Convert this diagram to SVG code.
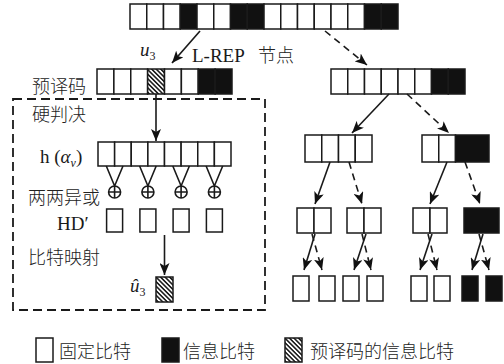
<svg xmlns="http://www.w3.org/2000/svg" width="504" height="364" viewBox="0 0 504 364">
<style>
.c{fill:#fff;stroke:#1a1a1a;stroke-width:1.5}
.b{fill:#111;stroke:#1a1a1a;stroke-width:1.5}
.h{fill:url(#hatch);stroke:#1a1a1a;stroke-width:1.5}
.ln{fill:none;stroke:#1a1a1a;stroke-width:1.6}
.ar{marker-end:url(#ah)}
.ds{stroke-dasharray:7 5}
.cj{font-family:"Noto Sans CJK SC","Noto Sans CJK JP",sans-serif;font-size:18px;font-weight:300;fill:#222}
.lt{font-family:"Liberation Serif","DejaVu Serif",serif;font-size:19px;fill:#1a1a1a}
.it{font-style:italic}
.sb{font-size:12px}
</style>
<defs>
<pattern id="hatch" patternUnits="userSpaceOnUse" width="3.2" height="3.2" patternTransform="rotate(-45)">
<rect width="3.2" height="3.2" fill="#fff"/>
<line x1="0.8" y1="0" x2="0.8" y2="3.2" stroke="#111" stroke-width="1.5"/>
</pattern>
<marker id="ah" markerUnits="userSpaceOnUse" markerWidth="13" markerHeight="10" refX="12" refY="5" orient="auto">
<path d="M0,0 L12,5 L0,10 L3,5 Z" fill="#111"/>
</marker>
</defs>
<rect width="504" height="364" fill="#fff"/>

<g id="root">
<rect class="c" x="130" y="4" width="16.75" height="25"/>
<rect class="c" x="146.75" y="4" width="16.75" height="25"/>
<rect class="c" x="163.5" y="4" width="16.75" height="25"/>
<rect class="b" x="180.25" y="4" width="16.75" height="25"/>
<rect class="c" x="197" y="4" width="16.75" height="25"/>
<rect class="c" x="213.75" y="4" width="16.75" height="25"/>
<rect class="b" x="230.5" y="4" width="16.75" height="25"/>
<rect class="b" x="247.25" y="4" width="16.75" height="25"/>
<rect class="c" x="264" y="4" width="16.75" height="25"/>
<rect class="c" x="280.75" y="4" width="16.75" height="25"/>
<rect class="c" x="297.5" y="4" width="16.75" height="25"/>
<rect class="c" x="314.25" y="4" width="16.75" height="25"/>
<rect class="c" x="331" y="4" width="16.75" height="25"/>
<rect class="c" x="347.75" y="4" width="16.75" height="25"/>
<rect class="b" x="364.5" y="4" width="16.75" height="25"/>
<rect class="b" x="381.25" y="4" width="16.75" height="25"/>
</g>

<g id="labels-top">
<text class="lt it" x="140" y="56">u<tspan class="sb" dy="4" font-style="normal">3</tspan></text>
<text class="lt" x="192" y="62">L-REP</text>
<text class="cj" x="258" y="62">节点</text>
</g>

<g id="predecode">
<text class="cj" x="32" y="93">预译码</text>
<rect class="c" x="97" y="69" width="16.875" height="25"/>
<rect class="c" x="113.875" y="69" width="16.875" height="25"/>
<rect class="c" x="130.75" y="69" width="16.875" height="25"/>
<rect class="h" x="147.625" y="69" width="16.875" height="25"/>
<rect class="c" x="164.5" y="69" width="16.875" height="25"/>
<rect class="c" x="181.375" y="69" width="16.875" height="25"/>
<rect class="b" x="198.25" y="69" width="16.875" height="25"/>
<rect class="b" x="215.125" y="69" width="16.875" height="25"/>
</g>

<g id="r1">
<rect class="c" x="331" y="69" width="16.75" height="25"/>
<rect class="c" x="347.75" y="69" width="16.75" height="25"/>
<rect class="c" x="364.5" y="69" width="16.75" height="25"/>
<rect class="c" x="381.25" y="69" width="16.75" height="25"/>
<rect class="c" x="398" y="69" width="16.75" height="25"/>
<rect class="c" x="414.75" y="69" width="16.75" height="25"/>
<rect class="b" x="431.5" y="69" width="16.75" height="25"/>
<rect class="b" x="448.25" y="69" width="16.75" height="25"/>
</g>

<g id="harddecision">
<rect x="13" y="99" width="252" height="211" fill="none" stroke="#1a1a1a" stroke-width="1.8" stroke-dasharray="9 5"/>
<text class="cj" x="32" y="121">硬判决</text>
<text class="lt" x="40" y="163">h (<tspan class="it">α</tspan><tspan class="sb it" dy="4">v</tspan><tspan dy="-4">)</tspan></text>
<rect class="c" x="98" y="142" width="16.625" height="24"/>
<rect class="c" x="114.625" y="142" width="16.625" height="24"/>
<rect class="c" x="131.25" y="142" width="16.625" height="24"/>
<rect class="c" x="147.875" y="142" width="16.625" height="24"/>
<rect class="c" x="164.5" y="142" width="16.625" height="24"/>
<rect class="c" x="181.125" y="142" width="16.625" height="24"/>
<rect class="c" x="197.75" y="142" width="16.625" height="24"/>
<rect class="c" x="214.375" y="142" width="16.625" height="24"/>
<text class="cj" x="28" y="204">两两异或</text>
<g class="ln">
<path d="M106.3,166 L114.6,186 L123,166"/>
<path d="M139.6,166 L147.9,186 L156.2,166"/>
<path d="M172.8,166 L181.1,186 L189.4,166"/>
<path d="M206.1,166 L214.4,186 L222.7,166"/>
<circle cx="114.6" cy="192" r="6"/><path d="M108.6,192 H120.6 M114.6,186 V198"/>
<circle cx="147.9" cy="192" r="6"/><path d="M141.9,192 H153.9 M147.9,186 V198"/>
<circle cx="181.1" cy="192" r="6"/><path d="M175.1,192 H187.1 M181.1,186 V198"/>
<circle cx="214.4" cy="192" r="6"/><path d="M208.4,192 H220.4 M214.4,186 V198"/>
</g>
<text class="lt" x="57" y="230">HD′</text>
<rect class="c" x="106.6" y="209" width="16" height="23"/>
<rect class="c" x="139.9" y="209" width="16" height="23"/>
<rect class="c" x="173.1" y="209" width="16" height="23"/>
<rect class="c" x="206.4" y="209" width="16" height="23"/>
<text class="cj" x="28" y="264">比特映射</text>
<text class="lt it" x="130" y="292">û<tspan class="sb" dy="4" font-style="normal">3</tspan></text>
<rect class="h" x="156" y="277" width="17" height="25"/>
</g>

<g id="r2">
<rect class="c" x="305" y="135" width="16.75" height="27"/>
<rect class="c" x="321.75" y="135" width="16.75" height="27"/>
<rect class="c" x="338.5" y="135" width="16.75" height="27"/>
<rect class="c" x="355.25" y="135" width="16.75" height="27"/>
<rect class="c" x="422" y="135" width="16.75" height="27"/>
<rect class="c" x="438.75" y="135" width="16.75" height="27"/>
<rect class="b" x="455.5" y="135" width="33.5" height="27"/>
</g>

<g id="r3">
<rect class="c" x="297" y="208" width="17" height="25"/>
<rect class="c" x="314" y="208" width="17" height="25"/>
<rect class="c" x="347" y="208" width="17" height="25"/>
<rect class="c" x="364" y="208" width="17" height="25"/>
<rect class="c" x="413" y="208" width="17" height="25"/>
<rect class="c" x="430" y="208" width="17" height="25"/>
<rect class="b" x="464" y="208" width="35" height="25"/>
</g>

<g id="r4">
<rect class="c" x="293" y="276" width="16" height="25"/>
<rect class="c" x="319" y="276" width="16" height="25"/>
<rect class="c" x="343" y="276" width="16" height="25"/>
<rect class="c" x="367" y="276" width="16" height="25"/>
<rect class="c" x="411" y="276" width="16" height="25"/>
<rect class="c" x="434" y="276" width="16" height="25"/>
<rect class="b" x="462" y="276" width="16" height="25"/>
<rect class="b" x="486" y="276" width="16" height="25"/>
</g>

<g id="connectors" class="ln">
<path class="ar" d="M200,31 L172,63"/>
<path class="ar ds" d="M325,31 L367,65"/>
<path class="ar" d="M156,94 L156,141"/>
<path class="ar" d="M164.5,235 L164.5,275"/>
<path class="ar" d="M389,94 L352,133"/>
<path class="ar ds" d="M407,94 L449,133"/>
<path class="ar" d="M330,162 L315,204"/>
<path class="ar ds" d="M349,162 L362,204"/>
<path class="ar" d="M447,162 L430,204"/>
<path class="ar ds" d="M465,162 L480,204"/>
<path class="ar" d="M315,234 L304,270"/>
<path class="ar ds" d="M312,234 L322,270"/>
<path class="ar" d="M366,234 L354,270"/>
<path class="ar ds" d="M362,234 L371,270"/>
<path class="ar" d="M432,234 L420,270"/>
<path class="ar ds" d="M428,234 L437,270"/>
<path class="ar" d="M483,234 L472,270"/>
<path class="ar ds" d="M479,234 L489,270"/>
</g>

<g id="legend">
<rect class="c" x="36" y="338" width="17" height="24"/>
<text class="cj" x="59" y="358">固定比特</text>
<rect class="b" x="162" y="338" width="17" height="24"/>
<text class="cj" x="183" y="358">信息比特</text>
<rect class="h" x="285" y="338" width="17" height="24"/>
<text class="cj" x="310" y="358">预译码的信息比特</text>
</g>
</svg>
